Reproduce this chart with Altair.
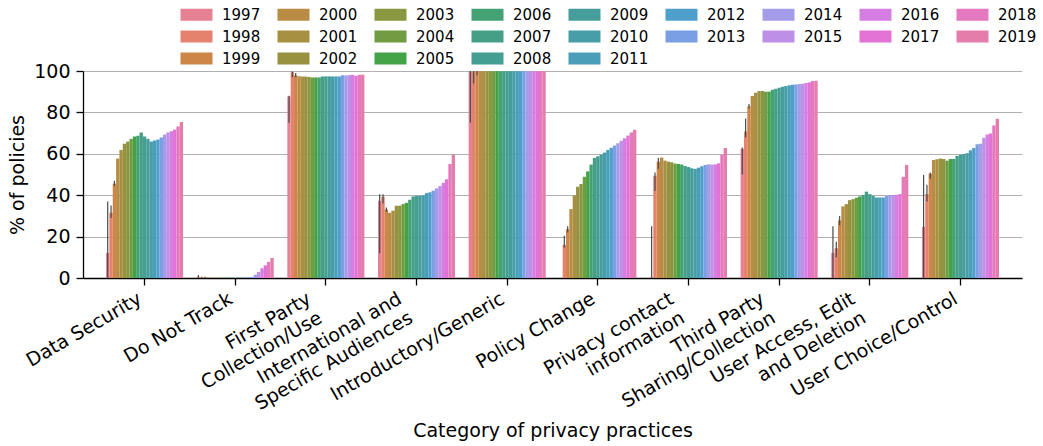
import math
import colorsys
import altair as alt
import pandas as pd

# ---------------- data ----------------
categories = [
    "Data Security", "Do Not Track", "First Party\nCollection/Use",
    "International and\nSpecific Audiences", "Introductory/Generic",
    "Policy Change", "Privacy contact\ninformation",
    "Third Party\nSharing/Collection", "User Access, Edit\nand Deletion",
    "User Choice/Control",
]
years = [str(y) for y in range(1997, 2020)]

data_security = [12.1, 31.5, 45.6, 57.7, 61.9, 64.8, 65.9, 67.2, 68.3, 68.7, 70.3, 68.3,
                 67.2, 65.9, 66.4, 66.9, 67.9, 69.3, 70.3, 70.9, 71.7, 73.2, 75.4]
do_not_track = [0.6, 0.3, 0.3, 0.2, 0.2, 0.2, 0.2, 0.2, 0.2, 0.2, 0.2, 0.2,
                0.2, 0.2, 0.2, 0.3, 0.5, 1.6, 2.9, 4.7, 6.1, 7.8, 9.7]
first_party = [87.7, 99.4, 97.9, 97.5, 97.4, 97.3, 97.1, 96.9, 96.9, 96.9, 97.3, 97.4,
               97.4, 97.4, 97.4, 97.4, 97.9, 97.9, 98.0, 98.2, 97.7, 98.2, 98.2]
international = [37.3, 39.3, 33.1, 31.5, 32.5, 34.9, 34.9, 35.7, 36.3, 37.8, 39.4, 39.7,
                 39.7, 39.9, 41.0, 41.4, 42.2, 43.3, 44.4, 46.0, 47.7, 55.1, 59.6]
introductory = [99.6, 99.7, 99.8, 99.9, 99.9, 99.9, 99.9, 99.9, 99.9, 99.9, 99.9, 99.9,
                99.9, 99.9, 99.9, 99.9, 99.9, 99.9, 99.9, 99.9, 99.9, 99.9, 99.9]
policy_change = [0.0, 16.0, 23.6, 33.3, 39.9, 44.1, 45.4, 48.9, 51.5, 54.8, 58.0, 58.8,
                 59.6, 60.6, 61.9, 62.9, 64.0, 65.1, 66.3, 67.5, 68.8, 70.3, 71.6]
privacy_contact = [0.3, 49.4, 56.2, 58.2, 56.7, 56.2, 55.9, 55.3, 55.1, 54.8, 54.1, 53.6,
                   53.0, 52.7, 53.3, 54.0, 54.6, 54.9, 54.8, 54.9, 55.4, 59.5, 62.8]
third_party = [62.4, 70.8, 82.9, 87.9, 89.5, 90.3, 90.3, 90.0, 90.0, 91.0, 91.4, 91.9,
               92.4, 92.7, 93.1, 93.4, 93.5, 93.7, 93.9, 94.2, 94.5, 95.2, 95.3]
user_access = [12.1, 14.4, 27.8, 34.6, 35.7, 37.6, 38.1, 38.8, 39.4, 40.1, 41.7, 40.5,
               39.7, 38.9, 38.9, 38.9, 39.6, 40.1, 40.1, 40.2, 40.5, 48.9, 54.6]
user_choice = [24.7, 40.5, 50.4, 57.0, 57.4, 57.7, 57.5, 56.7, 57.5, 57.5, 59.0, 59.5,
               59.9, 60.3, 61.7, 62.8, 64.6, 64.9, 67.7, 69.3, 69.8, 73.7, 76.9]

series = [data_security, do_not_track, first_party, international, introductory,
          policy_change, privacy_contact, third_party, user_access, user_choice]

# confidence intervals (visible ones, first three years)
ci_years = ["1997", "1998", "1999"]
ci_low = [[0, 29, 44.5], [0, 0, 0], [75, 97, 97], [12, 36, 32], [75, 94, 98],
          [0, 14.7, 22], [0, 42, 52.6], [50, 68, 82], [0, 10, 25.5], [0, 37, 48]]
ci_high = [[37, 35, 47], [1.5, 0.6, 0.6], [88, 99.8, 99], [40.5, 40.5, 34], [100, 100, 100],
           [0, 20.4, 25], [25, 51, 58], [63, 77, 84], [25, 17.5, 30], [49.8, 45, 51]]

# ---------------- palette (seaborn husl, desaturated 0.75) ----------------
M = [[3.240969941904521, -1.537383177570093, -0.498610760293],
     [-0.96924363628087, 1.87596750150772, 0.041555057407175],
     [0.055630079696993, -0.20397695888897, 1.056971514242878]]
REF_U = 0.19783000664283
REF_V = 0.46831999493879
KAPPA = 903.2962962
EPS = 0.0088564516


def max_chroma(L, H):
    hrad = math.radians(H)
    sinH, cosH = math.sin(hrad), math.cos(hrad)
    sub1 = (L + 16) ** 3 / 1560896.0
    sub2 = sub1 if sub1 > EPS else L / KAPPA
    result = float("inf")
    for m1, m2, m3 in M:
        top = (0.99915 * m1 + 1.05122 * m2 + 1.14460 * m3) * sub2
        rbottom = 0.86330 * m3 - 0.17266 * m2
        lbottom = 0.12949 * m3 - 0.38848 * m1
        bottom = (rbottom * sinH + lbottom * cosH) * sub2
        for t in (0.0, 1.0):
            C = L * (top - 1.05122 * t) / (bottom + 0.17266 * sinH * t)
            if 0.0 < C < result:
                result = C
    return result


def husl_to_rgb(h, s, l):
    C = max_chroma(l, h) / 100.0 * s
    hr = math.radians(h)
    U, V = math.cos(hr) * C, math.sin(hr) * C
    Y = ((l + 16.0) / 116.0) ** 3 if l > 8 else l / KAPPA
    varU = U / (13.0 * l) + REF_U
    varV = V / (13.0 * l) + REF_V
    X = -(9.0 * Y * varU) / ((varU - 4.0) * varV - varU * varV)
    Z = (9.0 * Y - 15.0 * varV * Y - varV * X) / (3.0 * varV)
    out = []
    for row in M:
        c = row[0] * X + row[1] * Y + row[2] * Z
        c = 12.92 * c if c <= 0.0031308 else 1.055 * c ** (1 / 2.4) - 0.055
        out.append(min(max(c, 0.0), 1.0))
    return out


def to_hex(rgb):
    return "#" + "".join("%02x" % int(round(v * 255)) for v in rgb)


n = len(years)
palette = []
for i in range(n):
    hue = ((i / n) + 0.01) % 1 * 359
    rgb = husl_to_rgb(hue, 0.9 * 99, 0.65 * 99)
    hh, ll, ss = colorsys.rgb_to_hls(*rgb)
    palette.append(to_hex(colorsys.hls_to_rgb(hh, ll, ss * 0.75)))

# legend order: matplotlib fills 9 columns top-down; Vega fills rows
ncol = 9
nrow = math.ceil(n / ncol)
col_len = [nrow if c < n % ncol else nrow - 1 for c in range(ncol)]
col_start = [sum(col_len[:c]) for c in range(ncol)]
legend_idx = [col_start[c] + r for r in range(nrow) for c in range(ncol) if r < col_len[c]]
legend_years = [years[i] for i in legend_idx]
legend_colors = [palette[i] for i in legend_idx]

rows = []
for cat, vals in zip(categories, series):
    for y, v in zip(years, vals):
        rows.append({"category": cat, "year": y, "value": v})
df = pd.DataFrame(rows)

ci_rows = []
for cat, lo, hi in zip(categories, ci_low, ci_high):
    for y, a, b in zip(ci_years, lo, hi):
        ci_rows.append({"category": cat, "year": y, "lo": a, "hi": b})
ci_df = pd.DataFrame(ci_rows)

FONT = "DejaVu Sans"
two_line = "indexof(datum.value, '\\n') >= 0"

x_enc = alt.X(
    "category:N",
    scale=alt.Scale(domain=categories, paddingInner=0.15, paddingOuter=0.254),
    axis=alt.Axis(
        title="Category of privacy practices",
        labelAngle=-30, labelAlign="right", labelBaseline="top",
        labelExpr="split(datum.label, '\\n')",
        labelFontSize=19, labelLineHeight=22, labelPadding=4, labelLimit=600,
        labelOffset={"condition": {"test": two_line, "value": -21}, "value": -9},
        tickSize=7, tickWidth=1.3, tickColor="black",
        domainColor="black", domainWidth=1.3,
        titleFontSize=19, titleFontWeight="normal",
        titleY=158, titleBaseline="alphabetic",
        labelColor="black", titleColor="black",
    ),
)
xoff_enc = alt.XOffset("year:N", scale=alt.Scale(domain=years, paddingInner=0, paddingOuter=0))
y_scale = alt.Scale(domain=[0, 100])

bars = alt.Chart(df).mark_bar(strokeWidth=0).encode(
    x=x_enc,
    xOffset=xoff_enc,
    y=alt.Y(
        "value:Q", scale=y_scale,
        axis=alt.Axis(
            title="% of policies", values=[0, 20, 40, 60, 80, 100],
            labelFontSize=19, labelPadding=6, tickSize=7, tickWidth=1.3,
            tickColor="black", domainColor="black", domainWidth=1.3,
            grid=True, gridColor="#b0b0b0", gridWidth=1,
            titleFontSize=19, titleFontWeight="normal",
            titleAngle=-90, titleX=-66, titleY=103.5,
            titleAlign="center", titleBaseline="middle",
            labelColor="black", titleColor="black",
        ),
    ),
    color=alt.Color(
        "year:N",
        scale=alt.Scale(domain=legend_years, range=legend_colors),
        title=None,
        legend=alt.Legend(
            orient="none", legendX=96, legendY=-64, direction="horizontal",
            columns=ncol, symbolType="M-1,-1H4.333V1H-1Z", symbolSize=144,
            labelOffset=28, labelFontSize=15, columnPadding=15, rowPadding=6,
            symbolStrokeWidth=0, symbolOpacity=1, padding=0,
            labelColor="black", labelFont=FONT,
        ),
    ),
)

errs = alt.Chart(ci_df).mark_rule(color="#4a4a4a", strokeWidth=1.2).encode(
    x=alt.X("category:N", scale=alt.Scale(domain=categories)),
    xOffset=alt.XOffset("year:N", scale=alt.Scale(domain=years)),
    y=alt.Y("lo:Q", scale=y_scale),
    y2="hi:Q",
)

chart = alt.layer(bars, errs).properties(
    width=939, height=207,
    padding={"left": 83, "top": 71, "right": 21, "bottom": 168},
    autosize=alt.AutoSizeParams(type="none"),
).configure(font=FONT).configure_view(stroke=None)

chart.save("out.html", embed_options={"renderer": "svg", "actions": False})
